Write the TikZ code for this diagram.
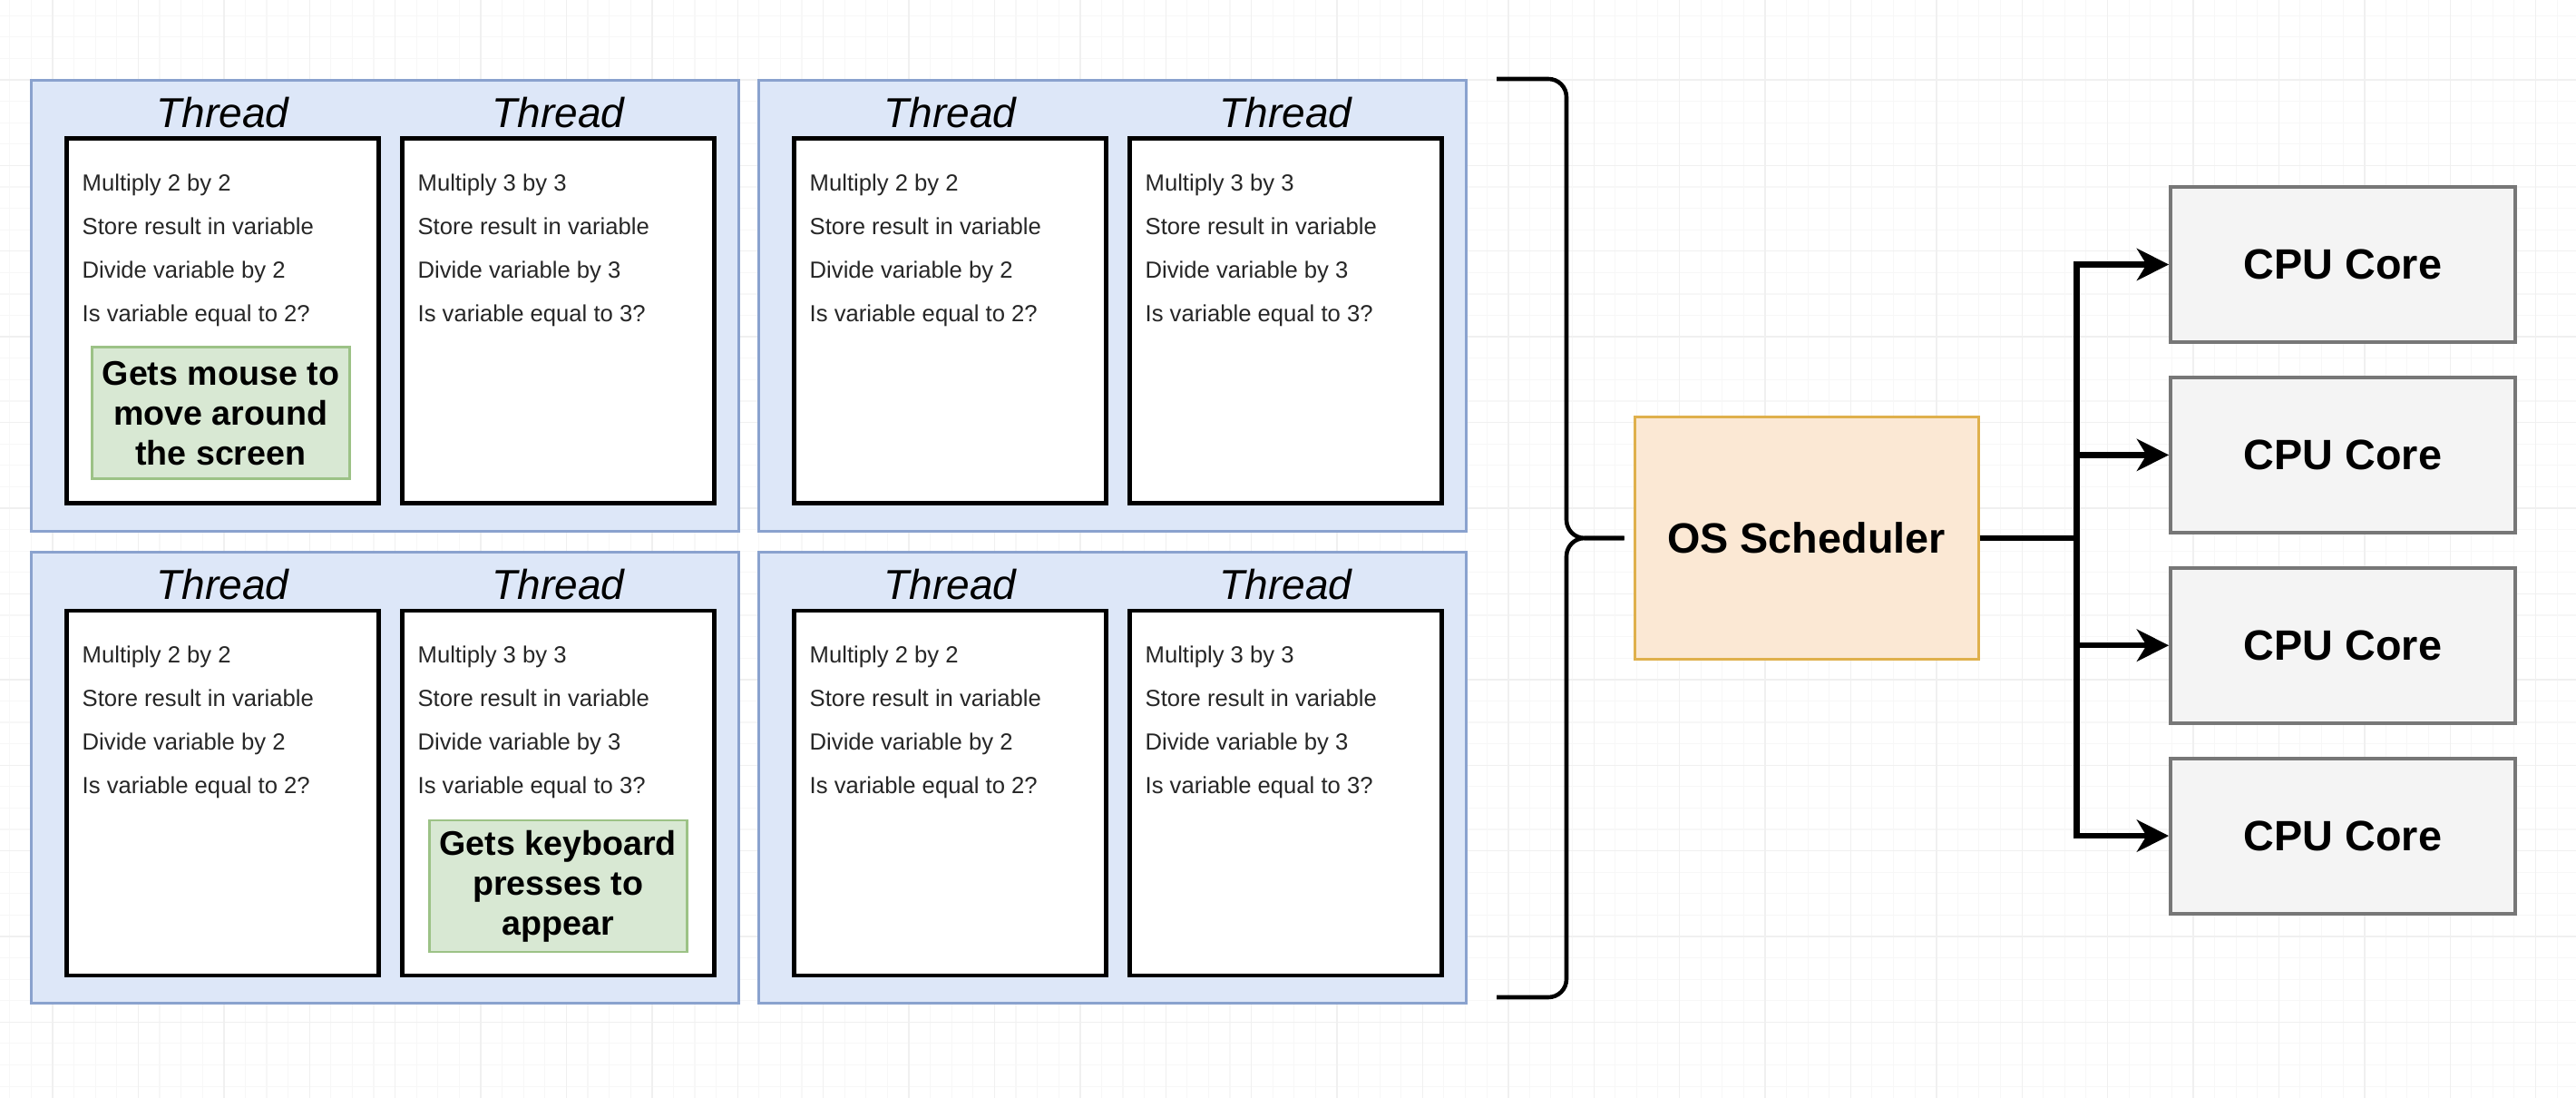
\documentclass[tikz,border=0pt]{standalone}
\usepackage{fontspec}
\setmainfont{Liberation Sans}
\usepackage{tikz}
\usetikzlibrary{arrows.meta, positioning}

\definecolor{procfill}{HTML}{DDE7F8}
\definecolor{procline}{HTML}{8AA2CE}
\definecolor{eventfill}{HTML}{D8E8D3}
\definecolor{eventline}{HTML}{9CC286}
\definecolor{schedfill}{HTML}{FBE8D4}
\definecolor{schedline}{HTML}{DFB04C}
\definecolor{corefill}{HTML}{F4F4F4}
\definecolor{coreline}{HTML}{777777}

\begin{document}
\begin{tikzpicture}[
        proc/.style={rectangle, draw=procline, fill=procfill, line width=0.85pt, minimum width=7.8cm, minimum height=4.97cm, anchor=north west, inner sep=0pt},
        thread/.style={rectangle, draw, fill=white, line width=1.4pt, minimum width=3.44cm, minimum height=4.02cm, inner sep=0pt},
        tlabel/.style={font=\itshape\fontsize{13.1}{15}\selectfont, inner sep=0pt},
        tasks/.style={align=left, inner sep=0pt, text=black!85, font=\fontsize{7.3}{13.66}\selectfont},
        event/.style={rectangle, draw=eventline, fill=eventfill, line width=0.8pt, minimum width=2.84cm, minimum height=1.45cm, align=center, inner sep=0pt, font=\bfseries\fontsize{10.7}{12.5}\selectfont},
        sched/.style={rectangle, draw=schedline, fill=schedfill, line width=0.85pt, minimum width=3.79cm, minimum height=2.67cm, font=\bfseries\fontsize{13.3}{15}\selectfont},
        core/.style={rectangle, draw=coreline, fill=corefill, line width=1.1pt, minimum width=3.8cm, minimum height=1.71cm, font=\bfseries\fontsize{13.3}{15}\selectfont},
        arrow/.style={-{Stealth[length=10pt, width=10pt, inset=3pt]}, line width=1.8pt},
        curly/.style={line width=1.3pt, rounded corners=0.2cm},
        gridline/.style={draw=black!6, line width=0.4pt},
        gridfine/.style={draw=black!3, line width=0.3pt}
    ]

    % 背景网格
    \useasboundingbox[fill=white] (0,0) rectangle (28.4,-12.1);
    \foreach \i in {0,...,119} {
        \draw[gridfine] ({0.58+0.236*(\i-2)},0) -- ++(0,-12.1);
    }
    \foreach \i in {0,...,51} {
        \draw[gridfine] (0,{-0.88-0.236*(\i-3)}) -- ++(28.4,0);
    }
    \foreach \i in {0,...,29} {
        \draw[gridline] ({0.58+0.944*\i},0) -- ++(0,-12.1);
    }
    \foreach \i in {0,...,11} {
        \draw[gridline] (0,{-0.88-0.944*\i}) -- ++(28.4,0);
    }

    % 进程与线程
    \foreach \g/\x/\y in {tl/0.33/-0.87, tr/8.35/-0.87, bl/0.33/-6.07, br/8.35/-6.07} {
        \node[proc] (\g) at (\x,\y) {};
        \node[thread, below right=0.635cm and 0.38cm of \g.north west] (\g-a) {};
        \node[thread, right=0.21cm of \g-a] (\g-b) {};
        \node[tlabel, above=0.09cm of \g-a] {Thread};
        \node[tlabel, above=0.09cm of \g-b] {Thread};
        \node[tasks, below right=0.41cm and 0.19cm of \g-a.north west] {Multiply 2 by 2\\Store result in variable\\Divide variable by 2\\Is variable equal to 2?};
        \node[tasks, below right=0.41cm and 0.19cm of \g-b.north west] {Multiply 3 by 3\\Store result in variable\\Divide variable by 3\\Is variable equal to 3?};
    }
    \node[event, below right=2.31cm and 0.29cm of tl-a.north west] (mouse) {Gets mouse to\\move around\\the screen};
    \node[event, below right=2.32cm and 0.31cm of bl-b.north west] (keys) {Gets keyboard\\presses to\\appear};

    % 调度器与核心
    \node[sched] (os) at (19.915,-5.93) {OS Scheduler};
    \node[core] (cpu1) at (25.83,-2.915) {CPU Core};
    \node[core, below=0.35cm of cpu1] (cpu2) {CPU Core};
    \node[core, below=0.35cm of cpu2] (cpu3) {CPU Core};
    \node[core, below=0.35cm of cpu3] (cpu4) {CPU Core};
    \coordinate[right=1.07cm of os] (fork);

    % 连接
    \draw[curly] (16.5,-0.87) -- (17.27,-0.87) -- (17.27,-5.93) -- ([xshift=-0.1cm]os.west);
    \draw[curly] (16.5,-10.99) -- (17.27,-10.99) -- (17.27,-5.93) -- ([xshift=-0.1cm]os.west);
    \draw[line width=1.8pt] (os) -- (fork);
    \draw[arrow] (fork) |- (cpu1.west);
    \draw[arrow] (fork) |- (cpu2.west);
    \draw[arrow] (fork) |- (cpu3.west);
    \draw[arrow] (fork) |- (cpu4.west);

    \end{tikzpicture}
\end{document}
